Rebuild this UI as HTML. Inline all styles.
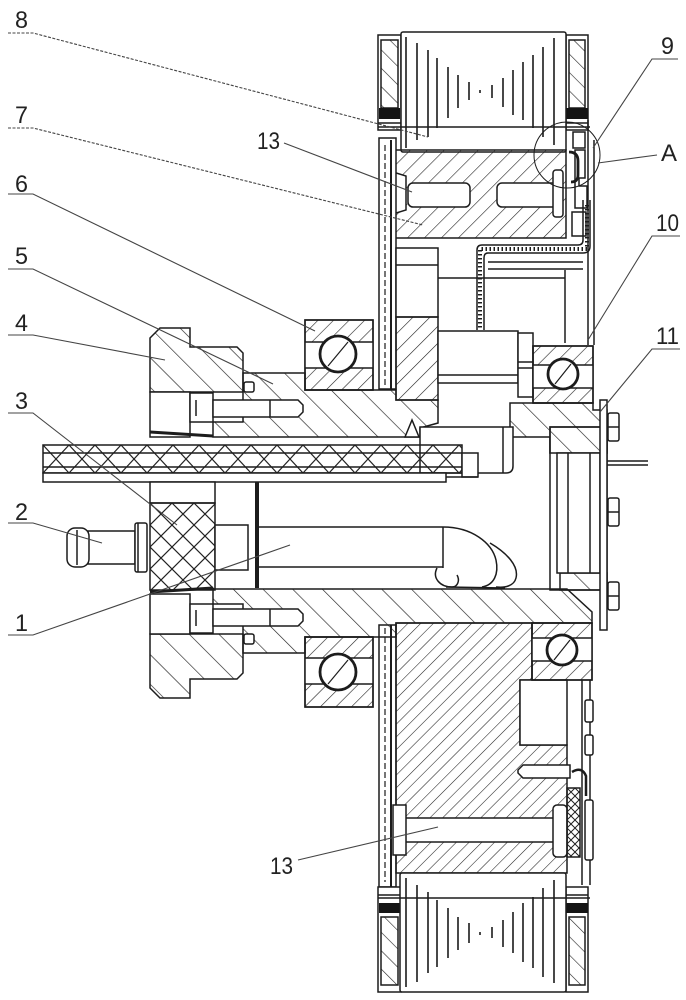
<!DOCTYPE html>
<html><head><meta charset="utf-8">
<style>html,body{margin:0;padding:0;background:#fff;}svg{display:block}</style>
</head><body>
<svg width="686" height="1000" viewBox="0 0 686 1000" xmlns="http://www.w3.org/2000/svg">
<defs>
<pattern id="hA" width="21" height="21" patternUnits="userSpaceOnUse" patternTransform="rotate(-45)"><line x1="0" y1="0" x2="0" y2="21" stroke="#222" stroke-width="1.3"/></pattern>
<pattern id="hB" width="12" height="12" patternUnits="userSpaceOnUse" patternTransform="rotate(45)"><line x1="0" y1="0" x2="0" y2="12" stroke="#222" stroke-width="1.2"/></pattern>
<pattern id="hC" width="9" height="9" patternUnits="userSpaceOnUse" patternTransform="rotate(45)"><line x1="0" y1="0" x2="0" y2="9" stroke="#222" stroke-width="1.1"/></pattern>
<pattern id="hD" width="13" height="13" patternUnits="userSpaceOnUse" patternTransform="rotate(-45)"><line x1="0" y1="0" x2="0" y2="13" stroke="#222" stroke-width="1.2"/></pattern>
<pattern id="hE" width="11" height="11" patternUnits="userSpaceOnUse" patternTransform="rotate(45)"><line x1="0" y1="0" x2="0" y2="11" stroke="#222" stroke-width="1.2"/></pattern>
<pattern id="xR" x="43" y="445" width="26" height="28" patternUnits="userSpaceOnUse"><path d="M0,0L26,28M26,0L0,28" stroke="#222" stroke-width="1.2" fill="none"/></pattern>
<pattern id="xB" x="150" y="503" width="22" height="22" patternUnits="userSpaceOnUse"><path d="M0,0L22,22M22,0L0,22" stroke="#222" stroke-width="1.2" fill="none"/></pattern>
<pattern id="xS" x="567" y="788" width="8" height="8" patternUnits="userSpaceOnUse"><path d="M0,0L8,8M8,0L0,8" stroke="#222" stroke-width="1" fill="none"/></pattern>
</defs>

<g fill="none" stroke="#1c1c1c" stroke-width="1.5">

<!-- ===== TOP WHEEL ===== -->
<rect x="378" y="35" width="23" height="95" fill="#fff"/>
<rect x="381" y="40" width="17" height="68" fill="url(#hD)"/>
<rect x="379" y="108" width="21" height="11" fill="#151515" stroke="none"/>
<line x1="378" y1="123" x2="401" y2="123"/>
<rect x="566" y="35" width="22" height="95" fill="#fff"/>
<rect x="569" y="40" width="16" height="68" fill="url(#hD)"/>
<rect x="566" y="108" width="22" height="11" fill="#151515" stroke="none"/>
<line x1="566" y1="123" x2="588" y2="123"/>
<rect x="401" y="32" width="165" height="120" fill="#fff" rx="2"/>
<line x1="378" y1="127" x2="590" y2="127"/>
<path stroke-width="1.6" d="M406,37V148 M417,43V140 M428,50V137 M437,58V128 M448,67V118 M458,75V108 M469,82V100 M480,90V93 M492,85V98 M503,78V107 M513,70V115 M523,62V120 M533,55V128 M543,47V137 M554,38V145"/>

<!-- block 7 -->
<polygon points="386,160 396,150 566,150 566,238 386,238" fill="url(#hB)"/>
<rect x="408" y="183" width="62" height="24" rx="5" fill="#fff"/>
<rect x="497" y="183" width="60" height="24" rx="5" fill="#fff"/>
<polygon points="393,172 406,176 406,210 393,214" fill="#fff"/>
<rect x="553" y="170" width="10" height="47" rx="3" fill="#fff"/>

<!-- left thin plate (upper & lower segments) -->
<rect x="379" y="138" width="17" height="251" fill="#fff"/>
<line x1="385" y1="145" x2="385" y2="385" stroke-dasharray="6 3" stroke-width="1.2"/>
<line x1="391" y1="140" x2="391" y2="389" stroke-width="2"/>
<rect x="379" y="625" width="17" height="262" fill="#fff"/>
<line x1="385" y1="628" x2="385" y2="882" stroke-dasharray="6 3" stroke-width="1.2"/>
<line x1="391" y1="625" x2="391" y2="887" stroke-width="2"/>

<!-- mechanism near A -->
<rect x="573" y="132" width="12" height="16" fill="#fff"/>
<path d="M575,150 h10 v28 h-6 v8 h8 v22 h-12 z" fill="#fff"/>
<path d="M569,152 q9,0 9,9 v14 q0,7 -7,7" stroke-width="2.8"/>
<rect x="572" y="212" width="14" height="24" fill="#fff"/>
<line x1="588" y1="120" x2="588" y2="345"/>
<line x1="594" y1="140" x2="594" y2="345"/>
<circle cx="567" cy="155" r="33" stroke-width="1"/>

<!-- cable -->
<path d="M583,200 L583,240 Q583,245 578,245 L482,245 Q477,245 477,250 L477,330"/>
<path d="M590,200 L590,246 Q590,253 583,253 L488,253 Q484,253 484,258 L484,330"/>
<path d="M587,205 L587,249 L480,249 L480,328" stroke-width="4" stroke-dasharray="1.5 2.5"/>

<!-- upper interior -->
<rect x="396" y="248" width="42" height="69" fill="#fff"/>
<line x1="396" y1="265" x2="438" y2="265"/>
<rect x="396" y="317" width="42" height="83" fill="url(#hB)"/>
<line x1="438" y1="278" x2="565" y2="278"/>
<line x1="488" y1="262" x2="583" y2="262"/>
<line x1="488" y1="269" x2="583" y2="269"/>
<line x1="565" y1="270" x2="565" y2="343"/>
<rect x="438" y="331" width="80" height="52" fill="#fff"/>
<line x1="438" y1="375" x2="518" y2="375"/>
<rect x="518" y="333" width="15" height="64" fill="#fff"/>
<line x1="518" y1="362" x2="533" y2="362"/>
<line x1="518" y1="368" x2="533" y2="368"/>

<!-- upper hub -->
<polygon points="243,373 305,373 305,390 396,390 396,400 438,400 438,423 420,428 420,437 213,437 213,422 243,422" fill="url(#hA)"/>
<polygon points="510,403 593,403 593,410 607,410 607,453 550,453 550,437 510,437" fill="url(#hA)"/>
<path d="M420,427 H513 V466 Q513,473 506,473 H420 Z" fill="#fff"/>
<line x1="503" y1="427" x2="503" y2="473"/>
<path d="M412,420 L405,437 L419,437 Z" fill="#fff"/>

<!-- upper part 4 flange -->
<polygon points="150,338 160,328 190,328 190,347 237,347 243,353 243,392 150,392" fill="url(#hA)"/>
<rect x="150" y="392" width="40" height="45" fill="#fff"/>
<rect x="190" y="393" width="23" height="29" fill="#fff"/>
<line x1="196" y1="400" x2="196" y2="416"/>
<path d="M213,400 H298 L303,405 V412 L298,417 H213 Z" fill="#fff"/>
<line x1="270" y1="400" x2="270" y2="417"/>
<rect x="244" y="382" width="10" height="10" rx="2" fill="#fff"/>
<path d="M150,432 L213,436" stroke-width="3"/>

<!-- upper bearing 6 -->
<rect x="305" y="320" width="68" height="70" fill="url(#hE)"/>
<rect x="305" y="342" width="68" height="26" fill="#fff" stroke="none"/>
<rect x="305" y="320" width="68" height="70"/>
<line x1="305" y1="342" x2="373" y2="342"/>
<line x1="305" y1="368" x2="373" y2="368"/>
<circle cx="338" cy="354" r="18" fill="#fff" stroke-width="2.8"/>
<line x1="328" y1="366" x2="348" y2="342" stroke-width="1.2"/>

<!-- upper bearing 10 -->
<rect x="533" y="346" width="60" height="57" fill="url(#hE)"/>
<rect x="533" y="365" width="60" height="23" fill="#fff" stroke="none"/>
<rect x="533" y="346" width="60" height="57"/>
<line x1="533" y1="365" x2="593" y2="365"/>
<line x1="533" y1="388" x2="593" y2="388"/>
<circle cx="563" cy="374" r="15" fill="#fff" stroke-width="2.8"/>
<line x1="555" y1="384" x2="571" y2="364" stroke-width="1.2"/>

<!-- rod -->
<rect x="43" y="445" width="419" height="28" fill="url(#xR)"/>
<line x1="43" y1="453" x2="462" y2="453"/>
<line x1="43" y1="467" x2="462" y2="467"/>
<rect x="43" y="473" width="403" height="9" fill="#fff"/>
<rect x="462" y="453" width="16" height="24" fill="#fff"/>
<line x1="446" y1="477" x2="478" y2="477"/>

<!-- part 3 block -->
<rect x="150" y="482" width="65" height="21" fill="#fff"/>
<rect x="150" y="503" width="65" height="87" fill="url(#xB)"/>
<path d="M150,592 L213,588" stroke-width="3"/>

<!-- part 2 nozzle -->
<rect x="88" y="531" width="47" height="33" fill="#fff"/>
<rect x="67" y="528" width="22" height="39" rx="8" fill="#fff"/>
<line x1="77" y1="530" x2="77" y2="565"/>
<rect x="135" y="523" width="12" height="49" rx="2" fill="#fff"/>
<line x1="138" y1="523" x2="138" y2="572"/>

<!-- tube 1 -->
<rect x="215" y="525" width="33" height="45" fill="#fff"/>
<line x1="257" y1="482" x2="257" y2="588" stroke-width="4"/>
<line x1="259" y1="527" x2="443" y2="527"/>
<line x1="259" y1="567" x2="443" y2="567"/>
<line x1="443" y1="527" x2="443" y2="568"/>
<path d="M443,527 C472,527 492,543 496,560 C499,574 494,585 482,587"/>
<path d="M490,543 C507,553 519,566 516,578 C514,586 505,588 496,587"/>
<path d="M437,568 C432,578 440,587 452,587 C458,587 460,580 457,575"/>
<path d="M446,587 L505,588"/>

<!-- part 11 housing -->
<rect x="550" y="427" width="57" height="163" fill="#fff"/>
<rect x="550" y="427" width="57" height="26" fill="url(#hA)"/>
<rect x="560" y="573" width="47" height="17" fill="url(#hA)"/>
<rect x="557" y="453" width="43" height="120" fill="#fff"/>
<line x1="568" y1="453" x2="568" y2="573"/>
<line x1="590" y1="453" x2="590" y2="573"/>
<rect x="600" y="400" width="7" height="230" fill="#fff"/>
<rect x="608" y="413" width="11" height="28" rx="2" fill="#fff"/>
<line x1="608" y1="427" x2="619" y2="427"/>
<rect x="608" y="498" width="11" height="28" rx="2" fill="#fff"/>
<line x1="608" y1="512" x2="619" y2="512"/>
<rect x="608" y="582" width="11" height="28" rx="2" fill="#fff"/>
<line x1="608" y1="596" x2="619" y2="596"/>
<line x1="607" y1="461" x2="648" y2="461"/>
<line x1="607" y1="465" x2="648" y2="465"/>

<!-- lower hub -->
<polygon points="213,589 567,589 592,612 592,623 396,623 396,637 305,637 305,653 243,653 243,604 213,604" fill="url(#hA)"/>

<!-- lower part 4 flange -->
<polygon points="150,688 160,698 190,698 190,679 237,679 243,673 243,634 150,634" fill="url(#hA)"/>
<rect x="150" y="594" width="40" height="40" fill="#fff"/>
<rect x="190" y="604" width="23" height="29" fill="#fff"/>
<line x1="196" y1="610" x2="196" y2="626"/>
<path d="M213,609 H298 L303,614 V621 L298,626 H213 Z" fill="#fff"/>
<line x1="270" y1="609" x2="270" y2="626"/>
<rect x="244" y="634" width="10" height="10" rx="2" fill="#fff"/>

<!-- lower bearing 6 -->
<rect x="305" y="637" width="68" height="70" fill="url(#hE)"/>
<rect x="305" y="658" width="68" height="26" fill="#fff" stroke="none"/>
<rect x="305" y="637" width="68" height="70"/>
<line x1="305" y1="658" x2="373" y2="658"/>
<line x1="305" y1="684" x2="373" y2="684"/>
<circle cx="338" cy="672" r="18" fill="#fff" stroke-width="2.8"/>
<line x1="328" y1="684" x2="348" y2="660" stroke-width="1.2"/>

<!-- lower big block -->
<polygon points="396,623 532,623 532,680 520,680 520,745 567,745 567,873 396,873" fill="url(#hC)"/>
<rect x="520" y="680" width="47" height="65" fill="#fff"/>
<rect x="405" y="818" width="150" height="24" fill="#fff"/>
<rect x="393" y="805" width="13" height="50" fill="#fff"/>
<rect x="553" y="805" width="14" height="52" rx="4" fill="#fff"/>
<path d="M518,770 L523,765 H570 V778 H523 L518,773 Z" fill="#fff"/>
<rect x="567" y="788" width="13" height="69" fill="url(#xS)"/>

<!-- lower bearing 10 -->
<rect x="532" y="623" width="60" height="57" fill="url(#hE)"/>
<rect x="532" y="638" width="60" height="23" fill="#fff" stroke="none"/>
<rect x="532" y="623" width="60" height="57"/>
<line x1="532" y1="638" x2="592" y2="638"/>
<line x1="532" y1="661" x2="592" y2="661"/>
<circle cx="562" cy="650" r="15" fill="#fff" stroke-width="2.8"/>
<line x1="554" y1="660" x2="570" y2="640" stroke-width="1.2"/>

<!-- lower right thin plate -->
<line x1="582" y1="680" x2="582" y2="885"/>
<line x1="590" y1="680" x2="590" y2="885"/>
<rect x="585" y="700" width="8" height="22" rx="2" fill="#fff"/>
<rect x="585" y="735" width="8" height="20" rx="2" fill="#fff"/>
<path d="M572,772 q10,-6 14,4 v20" stroke-width="2.5"/>
<rect x="585" y="800" width="8" height="60" rx="2" fill="#fff"/>

<!-- ===== BOTTOM WHEEL ===== -->
<rect x="378" y="887" width="23" height="105" fill="#fff"/>
<line x1="378" y1="895" x2="401" y2="895"/>
<rect x="379" y="903" width="21" height="10" fill="#151515" stroke="none"/>
<rect x="381" y="917" width="17" height="68" fill="url(#hD)"/>
<rect x="566" y="887" width="22" height="105" fill="#fff"/>
<line x1="566" y1="895" x2="588" y2="895"/>
<rect x="566" y="903" width="22" height="10" fill="#151515" stroke="none"/>
<rect x="569" y="917" width="16" height="68" fill="url(#hD)"/>
<rect x="400" y="873" width="166" height="119" fill="#fff" rx="2"/>
<line x1="378" y1="898" x2="590" y2="898"/>
<path stroke-width="1.6" d="M406,878V987 M417,885V982 M428,892V973 M437,900V967 M448,908V958 M458,917V950 M469,923V943 M480,932V935 M492,927V938 M503,920V947 M513,912V953 M523,903V962 M533,897V968 M543,888V977 M554,880V983"/>
</g>

<!-- ===== LEADERS ===== -->
<g stroke="#444" stroke-width="1.1" fill="none">
<path d="M8,33H33L428,137" stroke-dasharray="3 1.5"/>
<path d="M8,128H33L423,225" stroke-dasharray="3 1.5"/>
<path d="M8,194H33L315,331"/>
<path d="M8,269H33L273,384"/>
<path d="M8,335H33L165,360"/>
<path d="M8,413H33L177,525"/>
<path d="M8,523H33L102,543"/>
<path d="M8,635H33L290,545"/>
<path d="M284,143L412,192"/>
<path d="M298,860L438,827"/>
<path d="M678,59H652L593,148"/>
<path d="M657,155L598,163"/>
<path d="M680,236H652L588,340"/>
<path d="M680,349H652L600,412"/>
</g>

<!-- ===== LABELS ===== -->
<g font-family="'Liberation Sans', sans-serif" font-size="24" fill="#222">
<text x="15" y="28" textLength="13" lengthAdjust="spacingAndGlyphs">8</text>
<text x="15" y="123" textLength="13" lengthAdjust="spacingAndGlyphs">7</text>
<text x="15" y="192" textLength="13" lengthAdjust="spacingAndGlyphs">6</text>
<text x="15" y="264" textLength="13" lengthAdjust="spacingAndGlyphs">5</text>
<text x="15" y="331" textLength="13" lengthAdjust="spacingAndGlyphs">4</text>
<text x="15" y="409" textLength="13" lengthAdjust="spacingAndGlyphs">3</text>
<text x="15" y="520" textLength="13" lengthAdjust="spacingAndGlyphs">2</text>
<text x="15" y="631" textLength="13" lengthAdjust="spacingAndGlyphs">1</text>
<text x="257" y="149" textLength="23" lengthAdjust="spacingAndGlyphs">13</text>
<text x="270" y="874" textLength="23" lengthAdjust="spacingAndGlyphs">13</text>
<text x="661" y="54" textLength="13" lengthAdjust="spacingAndGlyphs">9</text>
<text x="661" y="161" textLength="16" lengthAdjust="spacingAndGlyphs">A</text>
<text x="656" y="231" textLength="23" lengthAdjust="spacingAndGlyphs">10</text>
<text x="656" y="344" textLength="23" lengthAdjust="spacingAndGlyphs">11</text>
</g>
</svg>
</body></html>
